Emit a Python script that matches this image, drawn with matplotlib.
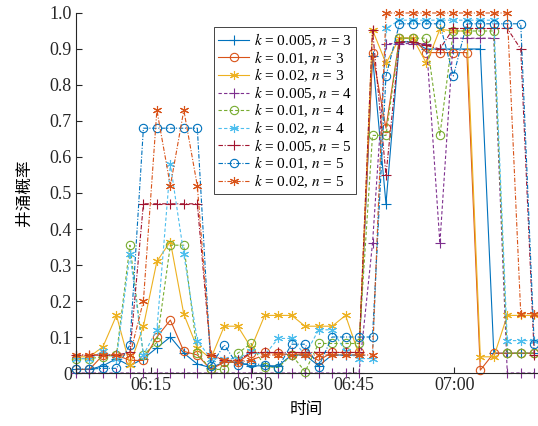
import matplotlib

matplotlib.use("Agg")
import matplotlib.pyplot as plt
import matplotlib.dates as mdates
import pandas as pd

plt.rcParams["font.family"] = ["Liberation Serif", "DejaVu Serif"]
plt.rcParams["mathtext.fontset"] = "stix"

# 采样时刻：06:03:50 起每 2 分钟一个点
times = pd.date_range("2020-01-01 06:03:50", periods=35, freq="2min")

s1 = [0.01, 0.01, 0.02, 0.04, 0.02, 0.04, 0.07, 0.10, 0.055, 0.025, 0.015, 0.03,
      0.03, 0.02, 0.02, 0.02, 0.05, 0.05, 0.02, 0.05, 0.05, 0.05, 0.88, 0.47,
      0.92, 0.92, 0.90, 0.90, 0.90, 0.90, 0.90, 0.055, 0.055, 0.055, 0.055]
s2 = [0.01, 0.01, 0.05, 0.05, 0.035, 0.035, 0.10, 0.147, 0.06, 0.05, 0.01, 0.03,
      0.03, 0.055, 0.057, 0.055, 0.05, 0.055, 0.035, 0.057, 0.057, 0.057, 0.888, 0.68,
      0.93, 0.93, 0.89, 0.89, 0.89, 0.89, 0.008, 0.055, 0.055, 0.055, 0.055]
s3 = [0.045, 0.045, 0.073, 0.16, 0.022, 0.13, 0.31, 0.365, 0.163, 0.07, 0.04, 0.13,
      0.13, 0.07, 0.16, 0.16, 0.16, 0.13, 0.13, 0.13, 0.16, 0.05, 0.953, 0.86,
      0.93, 0.93, 0.86, 0.955, 0.95, 0.95, 0.045, 0.045, 0.16, 0.16, 0.16]
s4 = [0.0, 0.0, 0.0, 0.0, 0.0, 0.0, 0.0, 0.0, 0.0, 0.0, 0.0, 0.0,
      0.0, 0.0, 0.0, 0.0, 0.0, 0.0, 0.0, 0.0, 0.0, 0.0, 0.36, 0.915,
      0.915, 0.915, 0.915, 0.36, 0.93, 0.93, 0.93, 0.93, 0.0, 0.0, 0.0]
s5 = [0.04, 0.04, 0.045, 0.05, 0.355, 0.05, 0.085, 0.355, 0.355, 0.055, 0.01, 0.01,
      0.055, 0.082, 0.018, 0.015, 0.05, 0.004, 0.082, 0.082, 0.082, 0.082, 0.66, 0.66,
      0.93, 0.93, 0.93, 0.66, 0.95, 0.95, 0.95, 0.95, 0.055, 0.055, 0.055]
s6 = [0.04, 0.04, 0.06, 0.04, 0.33, 0.05, 0.12, 0.58, 0.33, 0.09, 0.04, 0.04,
      0.04, 0.06, 0.05, 0.096, 0.096, 0.05, 0.12, 0.12, 0.06, 0.04, 0.04, 0.957,
      0.98, 0.98, 0.98, 0.98, 0.98, 0.98, 0.98, 0.98, 0.09, 0.09, 0.09]
s7 = [0.05, 0.05, 0.05, 0.05, 0.057, 0.47, 0.47, 0.47, 0.47, 0.47, 0.05, 0.035,
      0.035, 0.057, 0.057, 0.057, 0.057, 0.057, 0.057, 0.057, 0.057, 0.057, 0.953, 0.55,
      0.92, 0.92, 0.91, 0.90, 0.957, 0.957, 0.957, 0.957, 0.957, 0.90, 0.05]
s8 = [0.011, 0.011, 0.013, 0.013, 0.078, 0.68, 0.68, 0.68, 0.68, 0.68, 0.02, 0.078,
      0.022, 0.027, 0.022, 0.015, 0.08, 0.08, 0.018, 0.10, 0.10, 0.10, 0.10, 0.825,
      0.97, 0.97, 0.97, 0.97, 0.825, 0.97, 0.97, 0.97, 0.97, 0.97, 0.08]
s9 = [0.05, 0.05, 0.05, 0.05, 0.05, 0.20, 0.73, 0.52, 0.73, 0.52, 0.05, 0.036,
      0.03, 0.036, 0.05, 0.05, 0.05, 0.05, 0.05, 0.05, 0.05, 0.05, 0.05, 1.0,
      1.0, 1.0, 1.0, 1.0, 1.0, 1.0, 1.0, 1.0, 1.0, 0.165, 0.165]

series = [s1, s2, s3, s4, s5, s6, s7, s8, s9]
k_vals = ["0.005", "0.01", "0.02"]
n_vals = ["3", "4", "5"]

colors = ["#0072BD", "#D95319", "#EDB120", "#7E2F8E", "#77AC30",
          "#4DBEEE", "#A2142F", "#0072BD", "#D95319"]
markers = ["+", "o", (6, 2, 0)]   # 最后一个是 MATLAB 风格的星号
sizes = [7, 6, 6.5]
styles = ["-", (0, (3, 2)), (0, (4, 1.5, 1, 1.5))]

fig = plt.figure(figsize=(5.38, 4.26), dpi=100)
ax = fig.add_axes([0.1413, 0.1244, 0.8567, 0.8451])

for j, vals in enumerate(series):
    kk = k_vals[j % 3]
    nn = n_vals[j // 3]
    ax.plot(times, vals, color=colors[j], linestyle=styles[j // 3], linewidth=0.8,
            marker=markers[j % 3], markersize=sizes[j % 3], markerfacecolor="none",
            markeredgewidth=0.8, clip_on=False,
            label=rf"$k$ = {kk}, $n$ = {nn}")

ax.set_xlim(times[0], times[0] + pd.Timedelta(minutes=68.4))
ax.set_ylim(0, 1.0)

ax.xaxis.set_major_locator(mdates.MinuteLocator(byminute=[0, 15, 30, 45]))
ax.xaxis.set_major_formatter(mdates.DateFormatter("%H:%M"))
ax.set_yticks([i / 10 for i in range(11)])
ax.set_yticklabels(["0"] + [f"{i / 10:.1f}" for i in range(1, 11)])

for side in ["top", "right"]:
    ax.spines[side].set_visible(False)
for side in ["left", "bottom"]:
    ax.spines[side].set_color("#262626")
    ax.spines[side].set_linewidth(0.8)
ax.tick_params(direction="in", length=4, width=0.8, colors="#262626",
               labelsize=13, pad=3)

ax.set_xlabel("时间", family=["Noto Sans CJK SC"], fontsize=12, labelpad=5)
ax.set_ylabel("井涌概率", family=["Noto Sans CJK SC"], fontsize=12, labelpad=12)

leg = ax.legend(loc="upper left", bbox_to_anchor=(0.299, 0.962), fancybox=False,
                edgecolor="#262626", framealpha=1, fontsize=11, handlelength=2.0,
                labelspacing=0.0, borderpad=0.3, handletextpad=0.3,
                borderaxespad=0)
leg.get_frame().set_linewidth(0.6)

fig.savefig("out.png", dpi=100)
